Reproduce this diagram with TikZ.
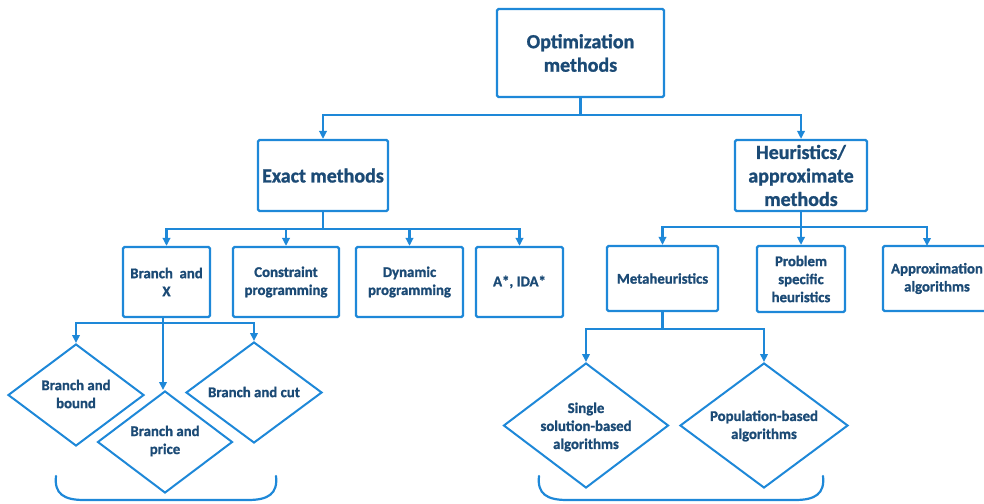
\documentclass[tikz,border=0pt]{standalone}
\usepackage{fontspec}
\setmainfont{Carlito}[BoldFeatures={FakeBold=1.2}]
\usetikzlibrary{arrows.meta,shapes.geometric}
\definecolor{lineblue}{HTML}{1E88D8}
\definecolor{textblue}{HTML}{1B4A75}
\begin{document}
\begin{tikzpicture}[x=1pt,y=-1pt,
  box/.style={draw=lineblue, line width=2.2pt, rounded corners=1.5pt,
    align=center, inner sep=0pt, text=textblue},
  big/.style={font=\bfseries\fontsize{20}{23.5}\selectfont},
  small/.style={font=\bfseries\fontsize{14.8}{18}\selectfont},
  dia/.style={diamond, draw=lineblue, line width=2pt, inner sep=0pt},
  lbl/.style={align=center, text=textblue, inner sep=0pt,
    font=\bfseries\fontsize{14.8}{18}\selectfont},
  link/.style={draw=lineblue, line width=2.2pt},
  arr/.style={link, -{Triangle[length=8pt,width=7.5pt]}},
  brace/.style={draw=lineblue, line width=2.2pt, line cap=round}
]
\clip (0,0) rectangle (984,503);

% root
\node[box, big, minimum width=167pt, minimum height=88pt] (opt) at (580.5,53) {Optimization\\methods};

% first level
\node[box, big, minimum width=130pt, minimum height=71pt] (exact) at (323,175.5) {Exact methods};
\node[box, big, minimum width=132pt, minimum height=71pt] (heur) at (801,175.5) {Heuristics/\\approximate\\methods};

% exact methods
\node[box, small, minimum width=87pt, minimum height=70pt] (bx) at (166.5,282) {Branch~ and\\X};
\node[box, small, minimum width=106pt, minimum height=70pt] (cp) at (286,282) {Constraint\\programming};
\node[box, small, minimum width=107pt, minimum height=70pt] (dp) at (409.5,282) {Dynamic\\programming};
\node[box, small, minimum width=87pt, minimum height=70pt] (astar) at (519.5,282) {A*, IDA*};

% heuristic methods
\node[box, small, minimum width=111pt, minimum height=65pt] (meta) at (662.5,278.5) {Metaheuristics};
\node[box, small, minimum width=88pt, minimum height=66pt] (psh) at (801,279) {Problem\\specific\\heuristics};
\node[box, small, minimum width=108pt, minimum height=65pt] (approx) at (937,278.5) {Approximation\\algorithms};

% branch and X variants
\node[dia, minimum width=136pt, minimum height=102pt] (bb) at (76,395) {};
\node[lbl] (bbt) at (76,394) {Branch and\\bound};
\node[dia, minimum width=135pt, minimum height=102pt] (bp) at (165,442) {};
\node[lbl] (bpt) at (165,441) {Branch and\\price};
\node[dia, minimum width=136pt, minimum height=101pt] (bc) at (254,392.5) {};
\node[lbl] (bct) at (254,392) {Branch and cut};

% metaheuristic families
\node[dia, minimum width=165pt, minimum height=125pt] (ss) at (586,425.5) {};
\node[lbl] (sst) at (586,427) {Single\\solution-based\\algorithms};
\node[dia, minimum width=168pt, minimum height=125pt] (pop) at (764,425.5) {};
\node[lbl] (popt) at (764,426) {Population-based\\algorithms};

% junctions
\coordinate (j0) at (580.5,115);
\coordinate (j1) at (323,229);
\coordinate (j2) at (801,227);
\coordinate (j3) at (163,323);
\coordinate (j4) at (662.5,329);
\coordinate (apin) at (927,246);

% connectors
\draw[link] (opt.south) -- (j0);
\draw[arr] (j0) -| (exact.north);
\draw[arr] (j0) -| (heur.north);

\draw[link] (exact.south) -- (j1);
\draw[arr] (j1) -| (bx.north);
\draw[arr] (j1) -| (cp.north);
\draw[arr] (j1) -| (dp.north);
\draw[arr] (j1) -| (astar.north);

\draw[link] (heur.south) -- (j2);
\draw[arr] (j2) -| (meta.north);
\draw[arr] (j2) -- (psh.north);
\draw[arr] (j2) -| (apin);

\draw[link] (bx.south -| j3) -- (j3);
\draw[arr] (j3) -| (bb.north);
\draw[arr] (j3) -| (bc.north);
\draw[arr] (j3) -- (j3 |- bp.north);

\draw[link] (meta.south) -- (j4);
\draw[arr] (j4) -| (ss.north);
\draw[arr] (j4) -| (pop.north);

% braces under the two groups
\draw[brace] (56,476) .. controls (54,494) and (64,500) .. (84,500)
  -- (248,500) .. controls (268,500) and (278,494) .. (276,476);
\draw[brace] (539,476) .. controls (537,494) and (547,500) .. (567,500)
  -- (795,500) .. controls (815,500) and (825,494) .. (823,476);
\end{tikzpicture}
\end{document}
